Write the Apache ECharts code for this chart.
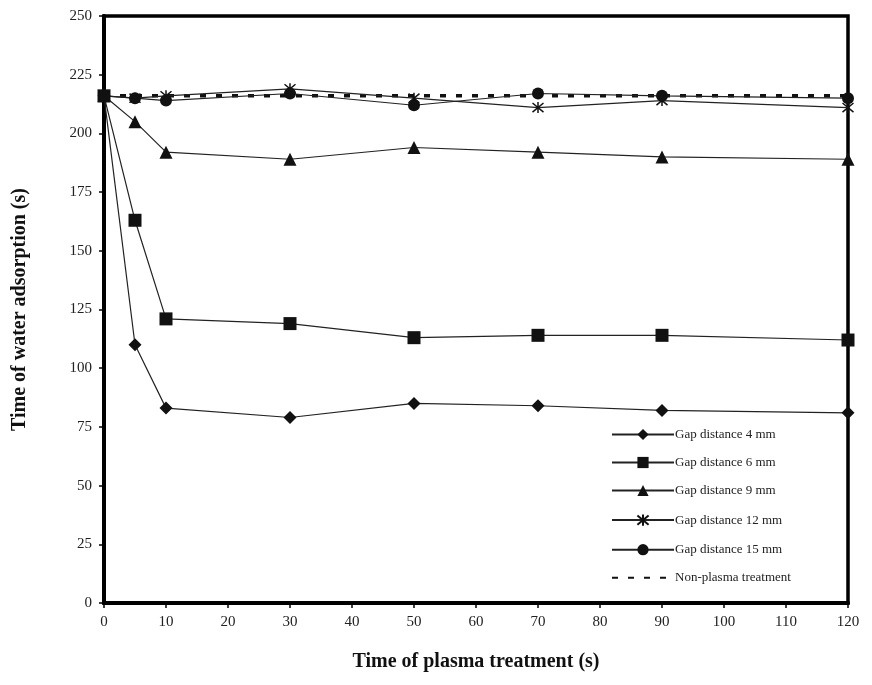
<!DOCTYPE html>
<html><head><meta charset="utf-8">
<script src="https://cdn.jsdelivr.net/npm/echarts@6/dist/echarts.min.js"></script>
<style>html,body{margin:0;padding:0;background:#fff}#c{width:872px;height:685px}</style>
</head><body><div id="c"></div>
<script>
const times = [0, 5, 10, 30, 50, 70, 90, 120];
const gap4 = [216, 110, 83, 79, 85, 84, 82, 81];
const gap6 = [216, 163, 121, 119, 113, 114, 114, 112];
const gap9 = [216, 205, 192, 189, 194, 192, 190, 189];
const gap12 = [216, 215, 216, 219, 215, 211, 214, 211];
const gap15 = [216, 215, 214, 217, 212, 217, 216, 215];
const nonPlasma = [216, 216, 216, 216, 216, 216, 216, 216];
const seriesNames = ['Gap distance 4 mm','Gap distance 6 mm','Gap distance 9 mm','Gap distance 12 mm','Gap distance 15 mm','Non-plasma treatment'];
const xTicks = [0,10,20,30,40,50,60,70,80,90,100,110,120];
const yTicks = [0,25,50,75,100,125,150,175,200,225,250];

const pair = arr => times.map((t,i)=>[t,arr[i]]);
const serif = '"Liberation Serif","DejaVu Serif",serif';
const star = 'path://M0,0L10,10M10,0L0,10M5,-1L5,11';
function mk(name, data, symbol, size, extra){
  return Object.assign({
    name, type:'line', data: pair(data), symbol, symbolSize:size,
    lineStyle:{color:'#222', width:1.2},
    itemStyle:{color:'#111', borderColor:'#111', borderWidth:0},
    z: 3
  }, extra||{});
}
const chart = echarts.init(document.getElementById('c'), null, {renderer:'canvas'});
chart.setOption({
  animation:false,
  backgroundColor:'#fff',
  grid:{left:104, right:24, top:16, bottom:82, show:true, borderColor:'#000', borderWidth:3.5, containLabel:false},
  xAxis:{type:'value', min:0, max:120, interval:10,
    name:'Time of plasma treatment (s)', nameLocation:'middle', nameGap:49,
    nameTextStyle:{fontFamily:serif, fontWeight:'bold', fontSize:20, color:'#111'},
    axisLine:{show:true, onZero:false, lineStyle:{color:'#000', width:4}},
    axisTick:{show:true, inside:false, length:5, lineStyle:{color:'#000', width:1.5}},
    axisLabel:{fontFamily:serif, fontSize:15, color:'#222', margin:12, formatter:v=>xTicks.includes(v)?String(v):''},
    splitLine:{show:false}},
  yAxis:{type:'value', min:0, max:250, interval:25,
    name:'Time of water adsorption (s)', nameLocation:'middle', nameGap:74, nameRotate:90,
    nameTextStyle:{fontFamily:serif, fontWeight:'bold', fontSize:20, color:'#111'},
    axisLine:{show:true, lineStyle:{color:'#000', width:4}},
    axisTick:{show:true, inside:false, length:5, lineStyle:{color:'#000', width:1.5}},
    axisLabel:{fontFamily:serif, fontSize:15, color:'#222', margin:12, formatter:v=>yTicks.includes(v)?String(v):''},
    splitLine:{show:false}},
  legend:{orient:'vertical', left:606, top:423, itemGap:15, itemWidth:62, itemHeight:14,
    textStyle:{fontFamily:serif, fontSize:13, color:'#222', padding:[0,0,0,-4]},
    data:seriesNames.slice(0,5).concat([{name:seriesNames[5], itemStyle:{opacity:0, color:'transparent'}}])},
  series:[
    mk(seriesNames[0], gap4, 'diamond', 13),
    mk(seriesNames[1], gap6, 'rect', 13),
    mk(seriesNames[2], gap9, 'triangle', 13),
    mk(seriesNames[3], gap12, star, 11, {itemStyle:{color:'none', borderColor:'#111', borderWidth:1.5}}),
    mk(seriesNames[4], gap15, 'circle', 12),
    {name:seriesNames[5], type:'line', data:pair(nonPlasma), symbol:'none', z:2,
      lineStyle:{color:'#111', width:3.5, type:[6,10]}, itemStyle:{color:'transparent'}}
  ]
});
</script></body></html>
